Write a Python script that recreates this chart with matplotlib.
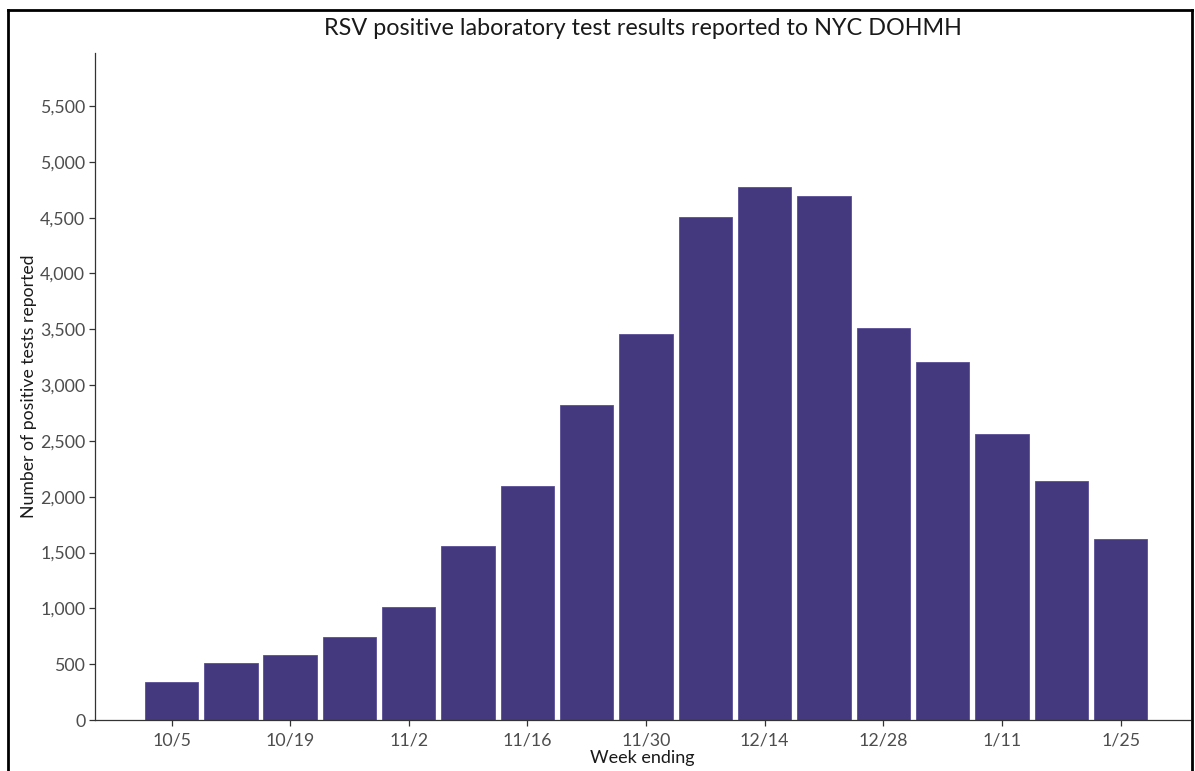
"""RSV positive lab tests reported to NYC DOHMH, weekly bar chart."""

import matplotlib
matplotlib.use("Agg")
import matplotlib.pyplot as plt
from matplotlib.lines import Line2D
from matplotlib.ticker import FuncFormatter, MultipleLocator

weeks = ["10/5", "10/12", "10/19", "10/26", "11/2", "11/9", "11/16", "11/23",
         "11/30", "12/7", "12/14", "12/21", "12/28", "1/4", "1/11", "1/18", "1/25"]
positives = [343, 513, 582, 743, 1009, 1559, 2096, 2822, 3458, 4506,
             4777, 4696, 3511, 3207, 2562, 2141, 1621]

plt.rcParams["font.family"] = ["Lato", "DejaVu Sans"]

fig = plt.figure(figsize=(11.95, 7.71), dpi=100)
ax = fig.add_axes([0.0795, 0.0661, 0.9163, 0.8652])

x = list(range(len(weeks)))
ax.bar(x, positives, width=0.9, color="#44397F", edgecolor="#5A4F96", linewidth=0.6)

ax.set_xlim(-1.29, len(weeks) - 1 + 1.17)
ax.set_ylim(0, 5975)
ax.set_xticks(x[::2])
ax.set_xticklabels(weeks[::2])
ax.yaxis.set_major_locator(MultipleLocator(500))
ax.yaxis.set_major_formatter(FuncFormatter(lambda v, _: f"{int(v):,}"))

for side in ("top", "right"):
    ax.spines[side].set_visible(False)
for side in ("left", "bottom"):
    ax.spines[side].set_color("#333333")
    ax.spines[side].set_linewidth(0.9)

ax.tick_params(axis="both", colors="#333333", labelcolor="#4D4D4D",
               labelsize=12.8, length=4, width=0.9, pad=3)
ax.tick_params(axis="x", pad=5)

ax.set_xlabel("Week ending", fontsize=13, color="#1a1a1a", labelpad=1)
ax.set_ylabel("Number of positive tests reported", fontsize=12.7, color="#1a1a1a", labelpad=2)
ax.set_title("RSV positive laboratory test results reported to NYC DOHMH",
             fontsize=16.8, color="#1a1a1a", pad=13)

# outer frame (left, top, right)
frame_kw = dict(transform=fig.transFigure, color="black", linewidth=2)
fig.add_artist(Line2D([0.0063, 0.0063], [0, 0.9865], **frame_kw))
fig.add_artist(Line2D([0.0063, 0.9975], [0.9865, 0.9865], **frame_kw))
fig.add_artist(Line2D([0.9975, 0.9975], [0, 0.9865], **frame_kw))

fig.savefig("out.png", dpi=100)
plt.close(fig)
